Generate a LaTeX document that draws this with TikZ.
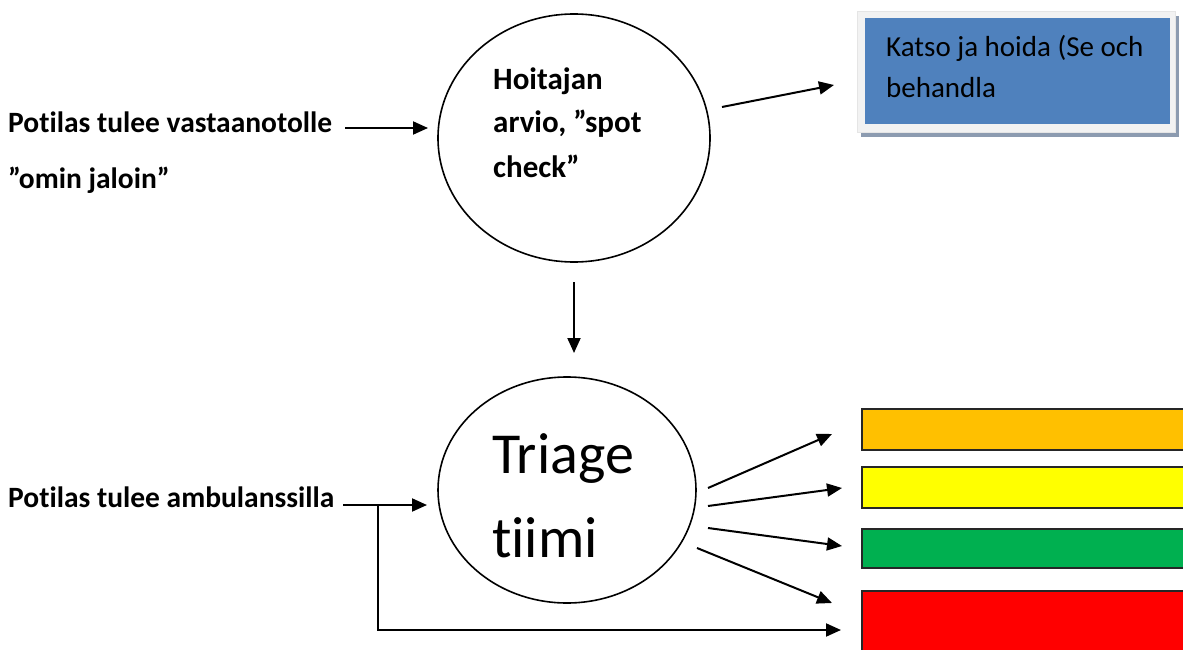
\documentclass[tikz,border=0pt]{standalone}
\usepackage{fontspec}
\setmainfont[Ligatures=NoCommon]{Carlito}
\usetikzlibrary{arrows.meta,shapes.geometric}
\definecolor{boxblue}{HTML}{4F81BD}
\definecolor{boxframe}{HTML}{F2F2F2}
\definecolor{boxshadow}{HTML}{8C9BB0}
\definecolor{tOrange}{HTML}{FFC000}
\definecolor{tYellow}{HTML}{FFFF00}
\definecolor{tGreen}{HTML}{00B050}
\definecolor{tRed}{HTML}{FF0000}
\begin{document}
\begin{tikzpicture}[x=1pt,y=-1pt,
  arr/.style={line width=2pt,-{Triangle[length=15pt,width=13pt]}},
  lbl/.style={font=\fontsize{29.5}{35}\selectfont\bfseries, anchor=base west, inner sep=0pt},
  lblc/.style={font=\fontsize{31}{37}\selectfont\bfseries, anchor=base west, inner sep=0pt},
  plain/.style={font=\fontsize{29}{35}\selectfont, anchor=base west, inner sep=0pt},
  big/.style={font=\fontsize{58}{68}\selectfont, anchor=base west, inner sep=0pt},
  bubble/.style={draw, line width=1.6pt, ellipse, inner sep=0pt},
  bar/.style={draw=black!85, line width=1.5pt, anchor=north west, minimum width=330pt, inner sep=0pt}]
\useasboundingbox (0,0) rectangle (1183,650);

% bubbles
\node[bubble, minimum width=272pt, minimum height=248pt] (spot) at (574,138) {};
\node[bubble, minimum width=258pt, minimum height=226pt] (triage) at (567,490) {};

% bubble texts
\node[lblc] (s1) at (493,90) {Hoitajan};
\node[lblc] (s2) at (493,133) {arvio, ”spot};
\node[lblc] (s3) at (493,177) {check”};
\node[big] (t1) at (492,473) {Triage};
\node[big] (t2) at (492,557) {tiimi};

% left labels
\node[lbl] (p1) at (8,133) {Potilas tulee vastaanotolle};
\node[lbl] (p2) at (8,188) {”omin jaloin”};
\node[lbl] (p3) at (8,507) {Potilas tulee ambulanssilla};

% blue box
\fill[boxshadow] (861,16) rectangle (1179,137);
\node[draw=black!10, fill=boxframe, line width=0.6pt, anchor=north west, minimum width=318pt, minimum height=121pt, inner sep=0pt] (frame) at (857,11) {};
\node[fill=boxblue, anchor=north west, minimum width=305pt, minimum height=106pt, inner sep=0pt] (katso) at (865,18) {};
\node[plain] (k1) at (886,57) {Katso ja hoida (Se och};
\node[plain] (k2) at (886,98) {behandla};

% triage bars
\node[bar, fill=tOrange, minimum height=41pt] (orange) at (861,408) {};
\node[bar, fill=tYellow, minimum height=41pt] (yellow) at (861,466) {};
\node[bar, fill=tGreen, minimum height=39pt] (green) at (861,528) {};
\node[bar, fill=tRed, minimum height=70pt] (red) at (861,590) {};

% connector coordinates
\coordinate (a1s) at (345,128); \coordinate (a1e) at (428,128);
\coordinate (a2s) at (722,107); \coordinate (a2e) at (834,85);
\coordinate (a3s) at (574,282); \coordinate (a3e) at (574,353);
\coordinate (b0s) at (343,505); \coordinate (b0e) at (427,505);
\coordinate (bj) at (378,505); \coordinate (bc) at (378,630); \coordinate (b5e) at (841,630);
\coordinate (b1s) at (708,488); \coordinate (b1e) at (832,434);
\coordinate (b2s) at (708,506); \coordinate (b2e) at (842,488);
\coordinate (b3s) at (708,528); \coordinate (b3e) at (842,546);
\coordinate (b4s) at (697,548); \coordinate (b4e) at (832,603);

% connectors
\draw[arr] (a1s) -- (a1e);
\draw[arr] (a2s) -- (a2e);
\draw[arr] (a3s) -- (a3e);
\draw[arr] (b0s) -- (b0e);
\draw[arr] (bj) -- (bc) -- (b5e);
\draw[arr] (b1s) -- (b1e);
\draw[arr] (b2s) -- (b2e);
\draw[arr] (b3s) -- (b3e);
\draw[arr] (b4s) -- (b4e);
\end{tikzpicture}
\end{document}
